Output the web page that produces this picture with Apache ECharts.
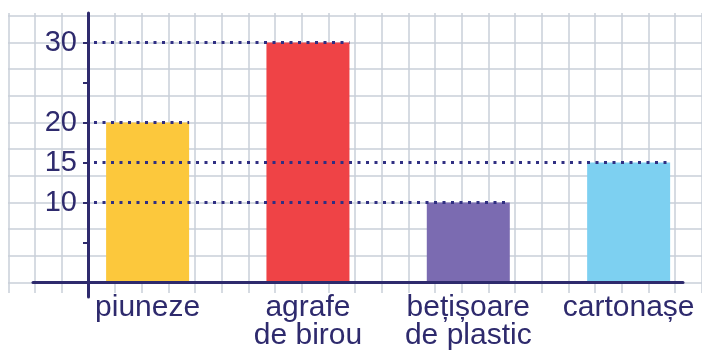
<!DOCTYPE html>
<html>
<head>
<meta charset="utf-8">
<script src="https://cdn.jsdelivr.net/npm/echarts@6/dist/echarts.min.js"></script>
<style>
  html, body { margin: 0; padding: 0; background: #ffffff; }
  #chart { width: 702px; height: 350px; }
</style>
</head>
<body>
<div id="chart"></div>
<script>
// Chart data
const categories = ['piuneze', 'agrafe\nde birou', 'bețișoare\nde plastic', 'cartonașe'];
const values = [20, 30, 10, 15];
const tickValues = [5, 10, 15, 20, 25, 30];
const labelValues = [10, 15, 20, 30];
const barColors = ['#fcc83c', '#ef4346', '#7b6bb1', '#7dd0f1'];

// Styling constants
const NAVY = '#2e2a6d';
const PAPER = '#c8cfd9';
const FONT = '"Liberation Sans", Arial, sans-serif';
const BAR_W = 83;
const Y_AXIS_SHIFT = 55; // y axis sits this far right of the plot's left edge

const chart = echarts.init(document.getElementById('chart'), null, { renderer: 'canvas' });

const option = {
  backgroundColor: '#ffffff',
  animation: false,
  grid: [
    // main plot
    { left: 33, width: 650, top: 13, height: 284, containLabel: false, outerBoundsMode: 'none' },
    // graph paper: horizontal rules
    { left: 8, width: 694, top: 15.7, height: 266.7, containLabel: false, outerBoundsMode: 'none' },
    // graph paper: vertical rules
    { left: 8.3, width: 693.3, top: 13, height: 280, containLabel: false, outerBoundsMode: 'none' }
  ],
  xAxis: [
    {
      gridIndex: 0, type: 'value', min: -0.7147, max: 3.339, z: 3,
      axisLine: { show: true, onZero: true, lineStyle: { color: NAVY, width: 3 } },
      axisTick: { show: false },
      splitLine: { show: false },
      axisLabel: {
        customValues: [0, 1, 2, 3],
        formatter: v => categories[Math.round(v)],
        color: NAVY, fontFamily: FONT, fontSize: 30, lineHeight: 28, margin: -3
      }
    },
    {
      gridIndex: 1, type: 'value', min: 0, max: 1,
      axisLine: { show: false }, axisTick: { show: false }, axisLabel: { show: false },
      splitLine: { show: false }
    },
    {
      gridIndex: 2, type: 'value', min: 0, max: 26, interval: 1,
      axisLine: { show: false }, axisTick: { show: false }, axisLabel: { show: false },
      splitLine: { show: true, lineStyle: { color: PAPER, width: 1.5 } }
    }
  ],
  yAxis: [
    {
      gridIndex: 0, type: 'value', min: -1.8, max: 33.7, position: 'left',
      offset: -Y_AXIS_SHIFT, z: 3,
      axisLine: { show: true, onZero: false, lineStyle: { color: NAVY, width: 3 } },
      axisTick: { show: true, customValues: tickValues, length: 5, lineStyle: { color: NAVY, width: 2 } },
      axisLabel: {
        customValues: labelValues,
        color: NAVY, fontFamily: FONT, fontSize: 29, margin: 11
      },
      splitLine: { show: false }
    },
    {
      gridIndex: 1, type: 'value', min: 0, max: 10, interval: 1,
      axisLine: { show: false }, axisTick: { show: false }, axisLabel: { show: false },
      splitLine: { show: true, lineStyle: { color: PAPER, width: 1.5 } }
    },
    {
      gridIndex: 2, type: 'value', min: 0, max: 1,
      axisLine: { show: false }, axisTick: { show: false }, axisLabel: { show: false },
      splitLine: { show: false }
    }
  ],
  series: [
    {
      type: 'bar',
      xAxisIndex: 0, yAxisIndex: 0,
      barWidth: BAR_W,
      z: 2,
      data: values.map((v, i) => ({ value: [i, v], itemStyle: { color: barColors[i] } }))
    },
    {
      // dotted guide from the y axis to the top right corner of each bar
      type: 'custom',
      xAxisIndex: 0, yAxisIndex: 0,
      z: 4,
      silent: true,
      data: values.map((v, i) => [i, v]),
      renderItem: function (params, api) {
        const p = api.coord([api.value(0), api.value(1)]);
        const x1 = params.coordSys.x + Y_AXIS_SHIFT + 6;
        const x2 = p[0] + BAR_W / 2;
        return {
          type: 'line',
          shape: { x1: x1, y1: p[1], x2: x2, y2: p[1] },
          style: { stroke: '#302f82', lineWidth: 3, lineDash: [3, 5.5] }
        };
      }
    }
  ]
};

chart.setOption(option);
</script>
</body>
</html>
